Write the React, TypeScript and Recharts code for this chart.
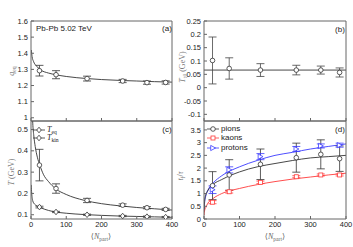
import React from "react";
import { ComposedChart, Line, Scatter, XAxis, YAxis, ErrorBar, ReferenceLine } from "recharts";

// <N_part> of the six centrality classes
const nPart = [24, 71, 159, 260, 329, 382];

// (a) q_eq
const qEq = [1.292, 1.267, 1.243, 1.228, 1.218, 1.219];
const qEqErr = [0.033, 0.025, 0.015, 0.01, 0.01, 0.01];
const qFitN = [1, 3, 7, 16, 25, 50, 70, 100, 160, 200, 260, 300, 350, 400];
const qFit = [1.42, 1.38, 1.35, 1.32, 1.3, 1.277, 1.267, 1.256, 1.243, 1.237, 1.231, 1.228, 1.224, 1.221];

// (b) T_eq0
const t0 = [0.102, 0.072, 0.066, 0.066, 0.066, 0.057];
const t0Err = [0.088, 0.04, 0.024, 0.018, 0.015, 0.017];
const t0Fit = 0.066;

// (c) T_eq, T_kin
const tEq = [0.333, 0.223, 0.167, 0.145, 0.133, 0.125];
const tEqErr = [0.074, 0.022, 0.01, 0.006, 0.005, 0.005];
const tKin = [0.136, 0.113, 0.1, 0.094, 0.091, 0.089];
const tKinErr = [0.004, 0.003, 0.003, 0.003, 0.003, 0.003];
const tEqFitN = [3, 5, 8, 12, 18, 25, 35, 50, 70, 100, 150, 200, 250, 300, 350, 400];
const tEqFit = [0.62, 0.53, 0.47, 0.42, 0.37, 0.333, 0.29, 0.255, 0.222, 0.195, 0.168, 0.152, 0.142, 0.134, 0.128, 0.122];
const tKinFitN = [0.5, 2, 5, 10, 25, 50, 70, 100, 150, 200, 250, 300, 350, 400];
const tKinFit = [0.24, 0.2, 0.165, 0.15, 0.135, 0.12, 0.113, 0.107, 0.101, 0.097, 0.094, 0.092, 0.09, 0.088];

// (d) t_f / tau
const pions = [1.31, 1.73, 2.15, 2.41, 2.54, 2.37];
const pionsErr = [0.55, 0.6, 0.6, 0.57, 0.57, 0.5];
const kaons = [0.66, 1.07, 1.44, 1.66, 1.73, 1.73];
const kaonsErr = [0.06, 0.05, 0.05, 0.04, 0.04, 0.04];
const protons = [1.15, 1.93, 2.45, 2.75, 2.87, 2.9];
const protonsErr = [0.15, 0.12, 0.12, 0.1, 0.08, 0.08];
const fitN = [0.3, 2, 5, 10, 25, 50, 100, 150, 200, 250, 300, 350, 400];
const pionsFit = [0.3, 0.75, 0.95, 1.1, 1.35, 1.55, 1.85, 2.05, 2.18, 2.3, 2.4, 2.45, 2.5];
const kaonsFit = [0.15, 0.35, 0.45, 0.6, 0.8, 1.0, 1.2, 1.35, 1.47, 1.57, 1.65, 1.73, 1.8];
const protonsFit = [0.3, 0.7, 0.9, 1.1, 1.4, 1.7, 2.05, 2.3, 2.5, 2.62, 2.75, 2.85, 2.95];

const W = 353;
const H = 247;
const AX = "#666";
const TICK = { fontSize: 7.5, fill: "#222", fontFamily: "Liberation Sans, Arial, sans-serif" };
const SERIF = "Liberation Serif, DejaVu Serif, serif";

const pts = (ys: number[], es: number[]) => nPart.map((x, i) => ({ x, y: ys[i], e: es[i] }));
const curve = (xs: number[], ys: number[]) => xs.map((x, i) => ({ x, y: ys[i] }));

const circle = (c: string) => (p: any) => (
    <circle cx={p.cx} cy={p.cy} r={2.3} fill="#fff" stroke={c} strokeWidth={0.8} />
);
const diamond = (c: string) => (p: any) => (
    <path d={`M${p.cx},${p.cy - 2.8}L${p.cx + 2.3},${p.cy}L${p.cx},${p.cy + 2.8}L${p.cx - 2.3},${p.cy}Z`}
        fill="#fff" stroke={c} strokeWidth={0.8} />
);
const square = (c: string) => (p: any) => (
    <rect x={p.cx - 2} y={p.cy - 2} width={4} height={4} fill="#fff" stroke={c} strokeWidth={0.8} />
);
const triangle = (c: string) => (p: any) => (
    <path d={`M${p.cx - 2.3},${p.cy - 2.6}L${p.cx + 2.6},${p.cy}L${p.cx - 2.3},${p.cy + 2.6}Z`}
        fill="#fff" stroke={c} strokeWidth={0.8} />
);

const blank = () => "";

// one framed panel; axis width/height of 1px, ticks pointing inwards
function Panel({ x0, x1, y0, y1, yDomain, yTicks, xLabels, children }: any) {
    return (
        <div style={{ position: "absolute", left: 0, top: 0 }}>
            <ComposedChart width={W} height={H}
                margin={{ top: y0 - 1, left: x0 - 1, right: W - x1 - 1, bottom: H - y1 - 1 }}>
                <XAxis type="number" dataKey="x" domain={[0, 400]} ticks={[0, 100, 200, 300, 400]} interval={0}
                    allowDataOverflow height={1} tickSize={-3} tickMargin={6}
                    axisLine={{ stroke: AX }} tickLine={{ stroke: AX }} tick={TICK}
                    tickFormatter={xLabels ? undefined : blank} />
                <XAxis xAxisId="t" orientation="top" type="number" domain={[0, 400]} ticks={[0, 100, 200, 300, 400]}
                    interval={0} height={1} tickSize={-3} axisLine={{ stroke: AX }} tickLine={{ stroke: AX }} tickFormatter={blank} />
                <YAxis type="number" domain={yDomain} ticks={yTicks} interval={0} allowDataOverflow width={1}
                    tickSize={-3} tickMargin={6} axisLine={{ stroke: AX }} tickLine={{ stroke: AX }} tick={TICK} />
                <YAxis yAxisId="r" orientation="right" type="number" domain={yDomain} ticks={yTicks} interval={0} width={1}
                    tickSize={-3} axisLine={{ stroke: AX }} tickLine={{ stroke: AX }} tickFormatter={blank} />
                {children}
            </ComposedChart>
        </div>
    );
}

const Txt = ({ x, y, children, size = 8, rot = false, serif = false, color = "#222", anchor = "center" }: any) => (
    <div style={{
        position: "absolute", left: x, top: y, fontSize: size, lineHeight: 1, whiteSpace: "nowrap", color,
        fontFamily: serif ? SERIF : "Liberation Sans, Arial, sans-serif",
        transform: `translate(${anchor === "left" ? "0" : "-50%"},-50%)${rot ? " rotate(-90deg)" : ""}`,
    }}>{children}</div>
);

const Sub = ({ children }: any) => (
    <span style={{ fontSize: "70%", verticalAlign: "-0.3em", lineHeight: 0 }}>{children}</span>
);

const LegendMark = ({ x, y, color, kind }: any) => {
    const shape = kind === "circle" ? circle(color) : kind === "square" ? square(color)
        : kind === "triangle" ? triangle(color) : diamond(color);
    return (
        <svg style={{ position: "absolute", left: x, top: y - 4 }} width={12} height={8}>
            <line x1={0} x2={12} y1={4} y2={4} stroke={color} strokeWidth={0.8} />
            {shape({ cx: 6, cy: 4 })}
        </svg>
    );
};

export default function App() {
    return (
        <div style={{ position: "absolute", left: 0, top: 0, width: W, height: H, background: "#fff" }}>
            {/* (a) */}
            <Panel x0={31} x1={172} y0={21} y1={121} yDomain={[0.98, 1.6]} yTicks={[1, 1.1, 1.2, 1.3, 1.4, 1.5, 1.6]}>
                <Line data={curve(qFitN, qFit)} dataKey="y" type="monotone" dot={false} stroke="#333" strokeWidth={0.9} isAnimationActive={false} />
                <Scatter data={pts(qEq, qEqErr)} dataKey="y" shape={circle("#333")} isAnimationActive={false}>
                    <ErrorBar dataKey="e" direction="y" width={4} stroke="#333" strokeWidth={0.8} />
                </Scatter>
            </Panel>
            {/* (b) */}
            <Panel x0={204} x1={346} y0={21} y1={121} yDomain={[-0.125, 0.25]}
                yTicks={[-0.1, -0.05, 0, 0.05, 0.1, 0.15, 0.2, 0.25]}>
                <ReferenceLine y={t0Fit} stroke="#333" strokeWidth={0.9} />
                <Scatter data={pts(t0, t0Err)} dataKey="y" shape={circle("#333")} isAnimationActive={false}>
                    <ErrorBar dataKey="e" direction="y" width={4} stroke="#444" strokeWidth={0.8} />
                </Scatter>
            </Panel>
            {/* (c) */}
            <Panel x0={31} x1={172} y0={121} y1={219} yDomain={[0.08, 0.54]} yTicks={[0.1, 0.2, 0.3, 0.4, 0.5]} xLabels>
                <Line data={curve(tEqFitN, tEqFit)} dataKey="y" type="monotone" dot={false} stroke="#333" strokeWidth={0.9} isAnimationActive={false} />
                <Line data={curve(tKinFitN, tKinFit)} dataKey="y" type="monotone" dot={false} stroke="#333" strokeWidth={0.9} isAnimationActive={false} />
                <Scatter data={pts(tEq, tEqErr)} dataKey="y" shape={circle("#333")} isAnimationActive={false}>
                    <ErrorBar dataKey="e" direction="y" width={4} stroke="#333" strokeWidth={0.8} />
                </Scatter>
                <Scatter data={pts(tKin, tKinErr)} dataKey="y" shape={diamond("#333")} isAnimationActive={false}>
                    <ErrorBar dataKey="e" direction="y" width={4} stroke="#333" strokeWidth={0.8} />
                </Scatter>
            </Panel>
            {/* (d) */}
            <Panel x0={204} x1={346} y0={121} y1={219} yDomain={[0, 3.85]}
                yTicks={[0, 0.5, 1, 1.5, 2, 2.5, 3, 3.5]} xLabels>
                <Line data={curve(fitN, protonsFit)} dataKey="y" type="monotone" dot={false} stroke="#3a3aff" strokeWidth={0.9} isAnimationActive={false} />
                <Line data={curve(fitN, pionsFit)} dataKey="y" type="monotone" dot={false} stroke="#333" strokeWidth={0.9} isAnimationActive={false} />
                <Line data={curve(fitN, kaonsFit)} dataKey="y" type="monotone" dot={false} stroke="#ff3a3a" strokeWidth={0.9} isAnimationActive={false} />
                <Scatter data={pts(pions, pionsErr)} dataKey="y" shape={circle("#333")} isAnimationActive={false}>
                    <ErrorBar dataKey="e" direction="y" width={4} stroke="#333" strokeWidth={0.8} />
                </Scatter>
                <Scatter data={pts(kaons, kaonsErr)} dataKey="y" shape={square("#ff3a3a")} isAnimationActive={false}>
                    <ErrorBar dataKey="e" direction="y" width={4} stroke="#ff3a3a" strokeWidth={0.8} />
                </Scatter>
                <Scatter data={pts(protons, protonsErr)} dataKey="y" shape={triangle("#3a3aff")} isAnimationActive={false}>
                    <ErrorBar dataKey="e" direction="y" width={4} stroke="#3a3aff" strokeWidth={0.8} />
                </Scatter>
            </Panel>

            {/* panel texts */}
            <Txt x={36} y={29} anchor="left">Pb-Pb 5.02 TeV</Txt>
            <Txt x={167} y={29}>(a)</Txt>
            <Txt x={340} y={30}>(b)</Txt>
            <Txt x={167} y={130}>(c)</Txt>
            <Txt x={340} y={130}>(d)</Txt>

            {/* axis titles */}
            <Txt x={12} y={71} rot serif color="#777"><i>q</i><Sub>eq</Sub></Txt>
            <Txt x={183} y={67} rot serif color="#777"><i>T</i><Sub>t0</Sub> (GeV)</Txt>
            <Txt x={12} y={172} rot serif color="#777"><i>T</i> (GeV)</Txt>
            <Txt x={181} y={176} rot serif color="#777"><i>t</i><Sub>f</Sub>/<i>τ</i></Txt>
            <Txt x={101} y={237} serif color="#666">⟨<i>N</i><Sub>part</Sub>⟩</Txt>
            <Txt x={275} y={237} serif color="#666">⟨<i>N</i><Sub>part</Sub>⟩</Txt>

            {/* legend (c) */}
            <LegendMark x={33} y={130} color="#333" kind="diamond" />
            <Txt x={47} y={130} serif anchor="left"><i>T</i><Sub>eq</Sub></Txt>
            <LegendMark x={33} y={138} color="#333" kind="diamond" />
            <Txt x={47} y={138} serif anchor="left"><i>T</i><Sub>kin</Sub></Txt>

            {/* legend (d) */}
            <LegendMark x={207} y={129} color="#333" kind="circle" />
            <Txt x={221} y={129} anchor="left">pions</Txt>
            <LegendMark x={207} y={138} color="#ff3a3a" kind="square" />
            <Txt x={221} y={138} anchor="left">kaons</Txt>
            <LegendMark x={207} y={148} color="#3a3aff" kind="triangle" />
            <Txt x={221} y={148} anchor="left">protons</Txt>
        </div>
    );
}
